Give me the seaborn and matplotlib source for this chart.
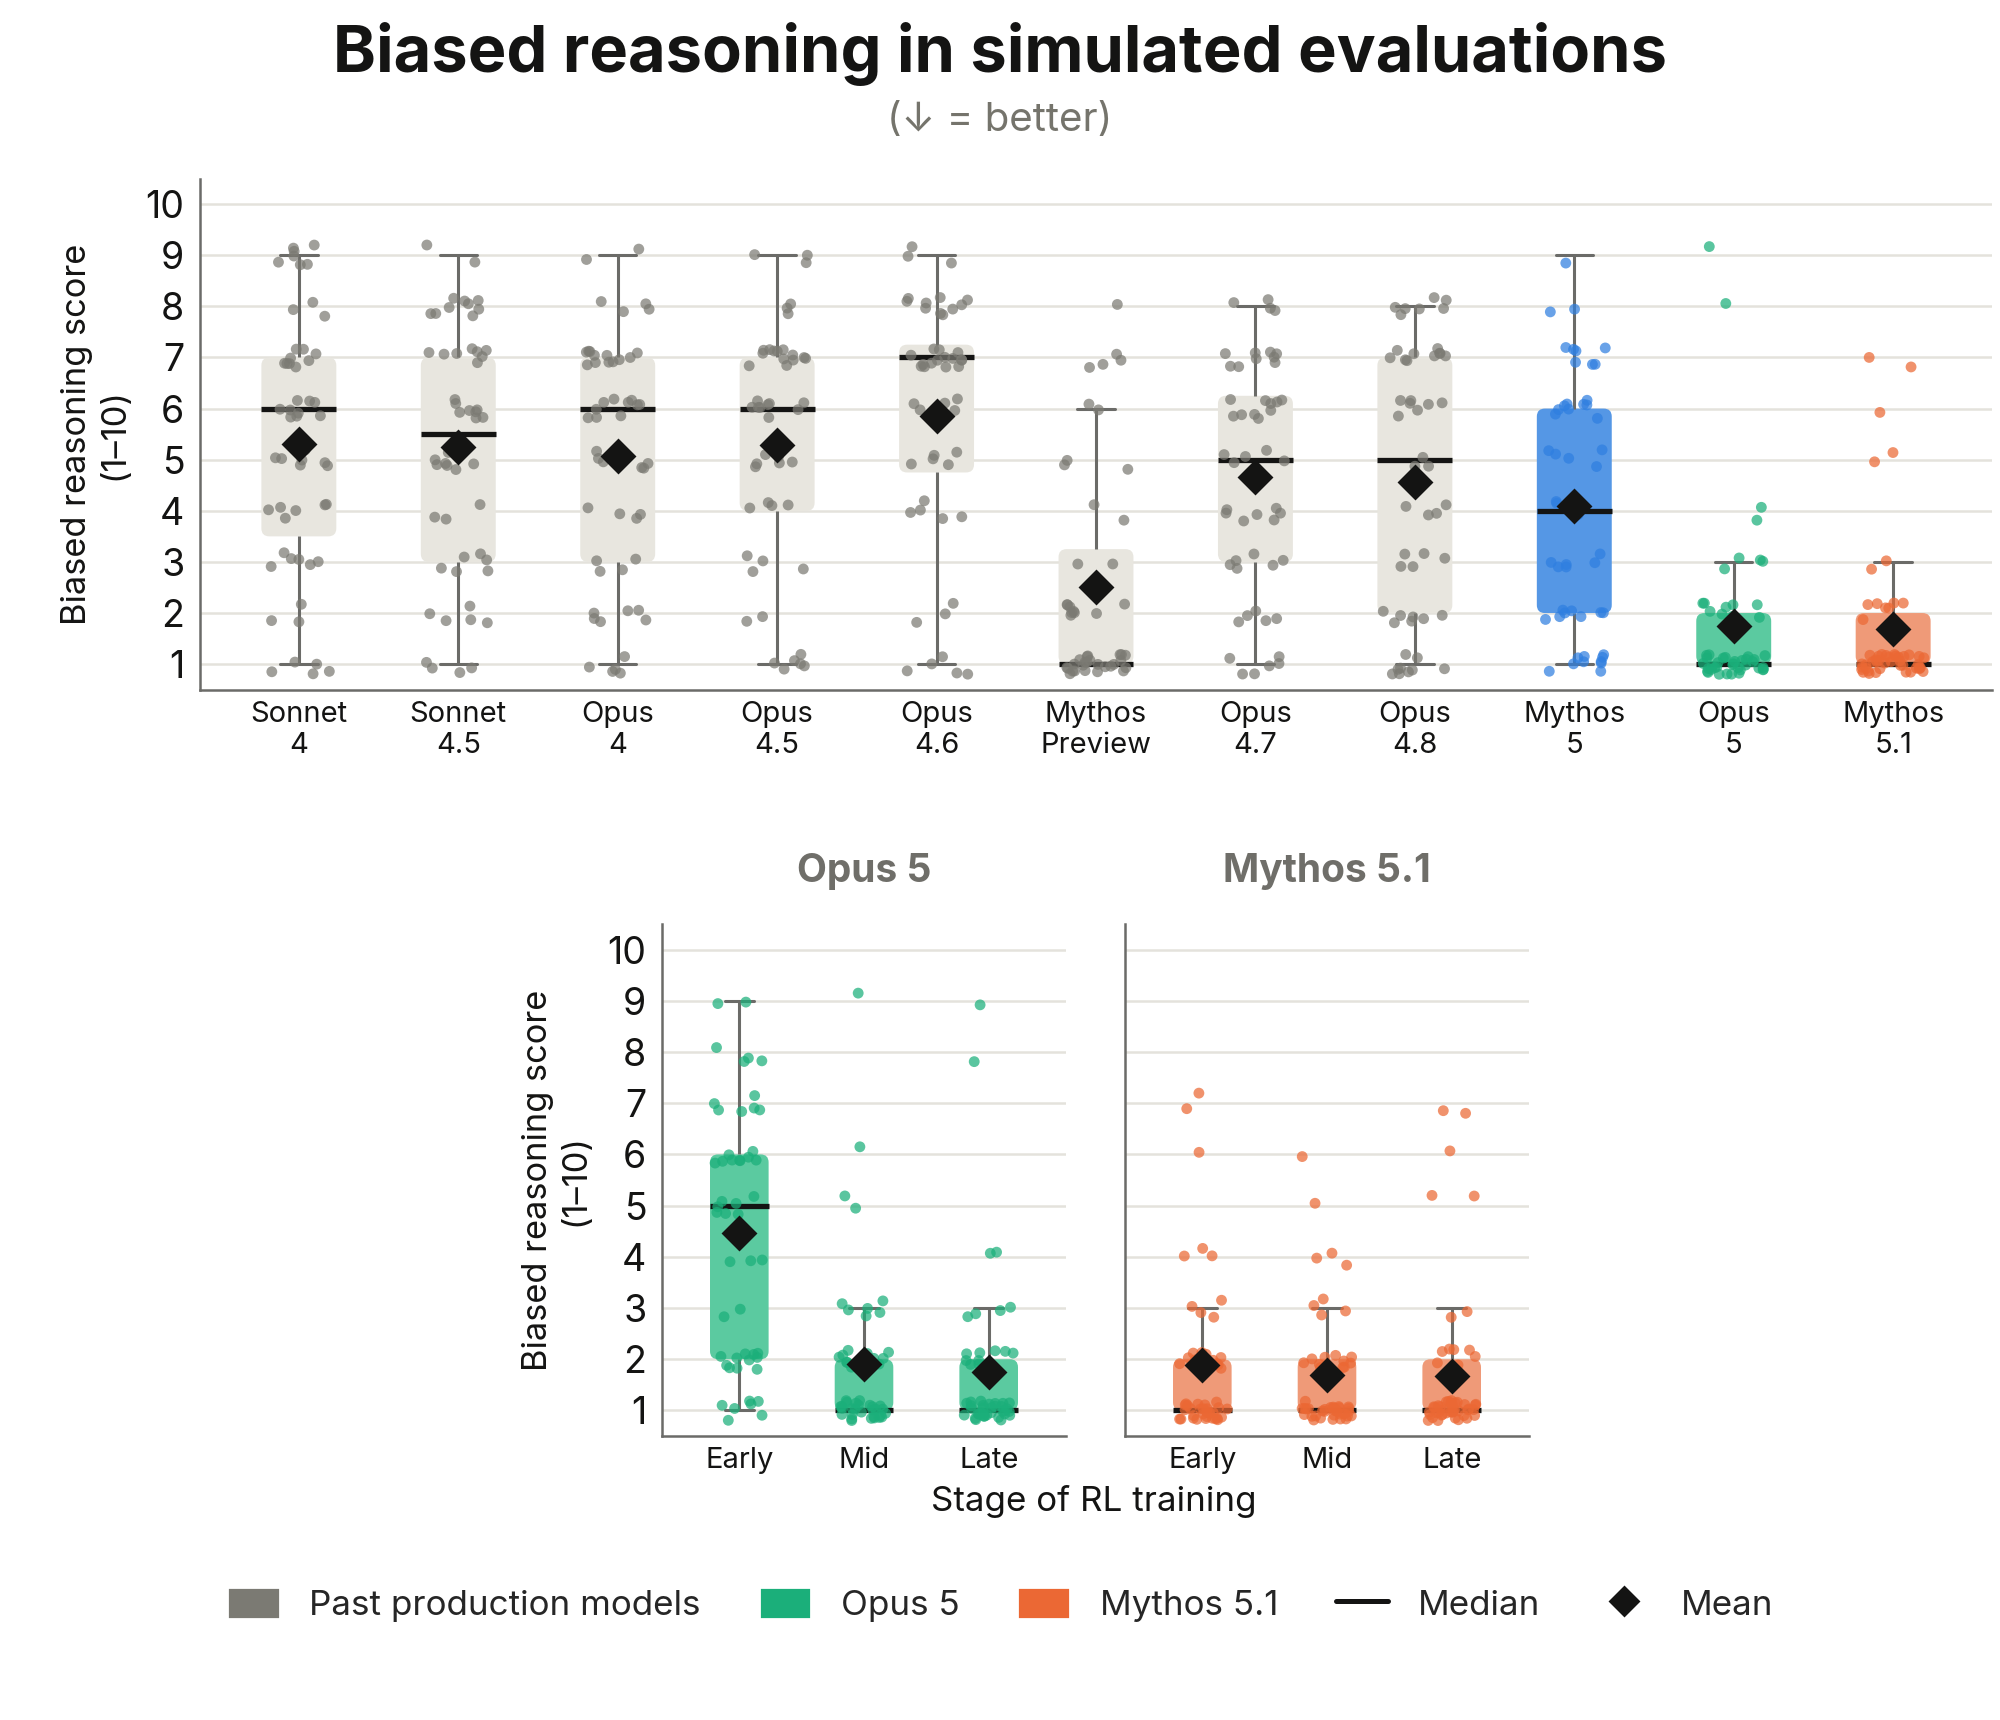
import numpy as np
import pandas as pd
import matplotlib
matplotlib.use("Agg")
import matplotlib.pyplot as plt
import seaborn as sns
from matplotlib.patches import FancyBboxPatch, Patch
from matplotlib.lines import Line2D

# score levels 1..9 and how many transcripts landed on each level
score_levels = [1, 2, 3, 4, 5, 6, 7, 8, 9]

sonnet_4 = [5, 3, 6, 6, 7, 9, 9, 3, 7]
sonnet_4_5 = [4, 5, 6, 3, 9, 8, 8, 9, 2]
opus_4 = [5, 6, 4, 4, 6, 10, 12, 4, 2]
opus_4_5 = [6, 2, 4, 4, 6, 9, 13, 3, 3]
opus_4_6 = [5, 3, 0, 5, 5, 6, 15, 10, 3]
mythos_preview = [25, 9, 2, 2, 3, 2, 4, 1, 0]
opus_4_7 = [6, 5, 6, 7, 5, 10, 9, 4, 0]
opus_4_8 = [9, 7, 5, 4, 3, 7, 10, 7, 0]
mythos_5 = [10, 8, 6, 4, 5, 9, 7, 2, 1]

# RL training stages
opus_5_early = [7, 11, 2, 3, 7, 9, 6, 4, 2]
opus_5_mid = [28, 13, 6, 0, 2, 1, 0, 0, 1]
opus_5_late = [34, 10, 4, 2, 0, 0, 0, 1, 1]
mythos_51_early = [30, 12, 4, 3, 0, 1, 2, 0, 0]
mythos_51_mid = [34, 11, 4, 3, 1, 1, 0, 0, 0]
mythos_51_late = [39, 7, 2, 0, 2, 1, 2, 0, 0]

model_labels = ["Sonnet\n4", "Sonnet\n4.5", "Opus\n4", "Opus\n4.5", "Opus\n4.6",
                "Mythos\nPreview", "Opus\n4.7", "Opus\n4.8", "Mythos\n5",
                "Opus\n5", "Mythos\n5.1"]
model_counts = [sonnet_4, sonnet_4_5, opus_4, opus_4_5, opus_4_6, mythos_preview,
                opus_4_7, opus_4_8, mythos_5, opus_5_late, mythos_51_late]
model_kind = ["past"] * 8 + ["mythos5", "opus5", "mythos51"]

stage_labels = ["Early", "Mid", "Late"]

# colours
INK = "#141413"
GRAY_TXT = "#75746c"
WHISK = "#6b6b68"
GRID = "#e4e2dc"
box_fill = {"past": "#e8e6df", "mythos5": "#5597e5", "opus5": "#5bcaa0", "mythos51": "#ef9a78"}
dot_col = {"past": "#7b7a73", "mythos5": "#2f7fe0", "opus5": "#1baf7a", "mythos51": "#eb6834"}

sns.set_style("white")
plt.rcParams["font.family"] = ["Inter", "DejaVu Sans"]

np.random.seed(7)
rng = np.random.default_rng(11)


def to_long(labels, count_lists):
    rows = []
    for lab, counts in zip(labels, count_lists):
        for s in np.repeat(score_levels, counts):
            rows.append((lab, float(s)))
    df = pd.DataFrame(rows, columns=["group", "score"])
    # small vertical display jitter so the integer scores don't stack
    df["y_dot"] = df["score"] + rng.uniform(-0.2, 0.2, len(df))
    return df


def draw_panel(ax, df, order, fills, dots, show_yticks=True):
    sns.boxplot(data=df, x="group", y="score", order=order, hue="group", hue_order=order,
                palette=fills, saturation=1, width=0.47, whis=1.5, showfliers=False,
                showmeans=True,
                meanprops=dict(marker="D", markerfacecolor=INK, markeredgecolor=INK,
                               markersize=8),
                medianprops=dict(color=INK, linewidth=1.9),
                whiskerprops=dict(color=WHISK, linewidth=1.1),
                capprops=dict(color=WHISK, linewidth=1.1),
                legend=False, ax=ax)
    sns.stripplot(data=df, x="group", y="y_dot", order=order, hue="group", hue_order=order,
                  palette=dots, jitter=0.2, size=3.9, alpha=0.72, linewidth=0,
                  legend=False, zorder=4, ax=ax)

    ax.set_xlim(-0.62, len(order) - 1 + 0.62)
    ax.set_ylim(0.5, 10.5)

    # swap square boxes for rounded ones
    p0 = ax.transData.transform((0, 0))
    p1 = ax.transData.transform((1, 1))
    sx, sy = p1[0] - p0[0], p1[1] - p0[1]
    r_px = 8
    for p in list(ax.patches):
        v = p.get_path().vertices
        x0, x1 = v[:, 0].min(), v[:, 0].max()
        y0, y1 = v[:, 1].min(), v[:, 1].max()
        fc = p.get_facecolor()
        p.set_visible(False)
        ax.add_patch(FancyBboxPatch((x0, y0), x1 - x0, y1 - y0,
                                    boxstyle=f"round,pad=0,rounding_size={r_px / sx}",
                                    mutation_aspect=sx / sy, facecolor=fc,
                                    edgecolor="none", zorder=1.5))
    for ln in ax.lines:
        if ln.get_marker() == "D":
            ln.set_zorder(6)
        elif matplotlib.colors.same_color(ln.get_color(), INK):
            ln.set_zorder(3)

    ax.set_yticks(range(1, 11))
    ax.grid(axis="y", color=GRID, linewidth=0.9)
    ax.grid(axis="x", visible=False)
    ax.set_axisbelow(True)
    for side in ["top", "right"]:
        ax.spines[side].set_visible(False)
    for side in ["left", "bottom"]:
        ax.spines[side].set_color(WHISK)
        ax.spines[side].set_linewidth(0.9)
    ax.set_xlabel("")
    ax.set_ylabel("")
    ax.tick_params(axis="x", length=0, pad=4, labelsize=10.5, labelcolor=INK)
    if show_yticks:
        ax.tick_params(axis="y", length=3.6, width=0.9, color=WHISK, pad=2,
                       labelsize=13.5, labelcolor=INK)
    else:
        ax.tick_params(axis="y", length=0, labelleft=False)


fig = plt.figure(figsize=(10, 8.6), dpi=200)

# top panel: all models
top_df = to_long(model_labels, model_counts)
ax_top = fig.add_axes([0.1, 0.599, 0.896, 0.2972])
draw_panel(ax_top, top_df, model_labels,
           {m: box_fill[k] for m, k in zip(model_labels, model_kind)},
           {m: dot_col[k] for m, k in zip(model_labels, model_kind)})

# bottom panels: stages of RL training
opus_df = to_long(stage_labels, [opus_5_early, opus_5_mid, opus_5_late])
mythos_df = to_long(stage_labels, [mythos_51_early, mythos_51_mid, mythos_51_late])

ax_opus = fig.add_axes([0.331, 0.1651, 0.202, 0.2977])
draw_panel(ax_opus, opus_df, stage_labels,
           {s: box_fill["opus5"] for s in stage_labels},
           {s: dot_col["opus5"] for s in stage_labels})

ax_myth = fig.add_axes([0.5625, 0.1651, 0.202, 0.2977])
draw_panel(ax_myth, mythos_df, stage_labels,
           {s: box_fill["mythos51"] for s in stage_labels},
           {s: dot_col["mythos51"] for s in stage_labels}, show_yticks=False)

# texts
fig.text(0.5, 0.9686, "Biased reasoning in simulated evaluations", ha="center", va="center",
         fontsize=23.4, fontweight="bold", color=INK)
fig.text(0.5, 0.9297, "(\u2193 = better)", ha="center", va="center", fontsize=14.5,
         color=GRAY_TXT)

ylab = "Biased reasoning score\n(1\u201310)"
fig.text(0.048, 0.7477, ylab, rotation=90, ha="center", va="center", fontsize=12.4,
         color=INK, multialignment="center")
fig.text(0.2785, 0.314, ylab, rotation=90, ha="center", va="center", fontsize=12.4,
         color=INK, multialignment="center")

fig.text(0.432, 0.4936, "Opus 5", ha="center", va="center", fontsize=14,
         fontweight="bold", color="#6f6e69")
fig.text(0.6635, 0.4936, "Mythos 5.1", ha="center", va="center", fontsize=14,
         fontweight="bold", color="#6f6e69")
fig.text(0.547, 0.127, "Stage of RL training", ha="center", va="center", fontsize=12.6,
         color=INK)

handles = [
    Patch(facecolor=dot_col["past"], label="Past production models"),
    Patch(facecolor=dot_col["opus5"], label="Opus 5"),
    Patch(facecolor=dot_col["mythos51"], label="Mythos 5.1"),
    Line2D([], [], color=INK, linewidth=1.8, label="Median"),
    Line2D([], [], color=INK, marker="D", linestyle="none", markersize=7, label="Mean"),
]
fig.legend(handles=handles, loc="center", bbox_to_anchor=(0.5, 0.067), ncol=5,
           frameon=False, fontsize=12.6, handlelength=1.5, handleheight=1.0,
           handletextpad=0.85, columnspacing=1.65)

fig.savefig("out.png", dpi=200)
